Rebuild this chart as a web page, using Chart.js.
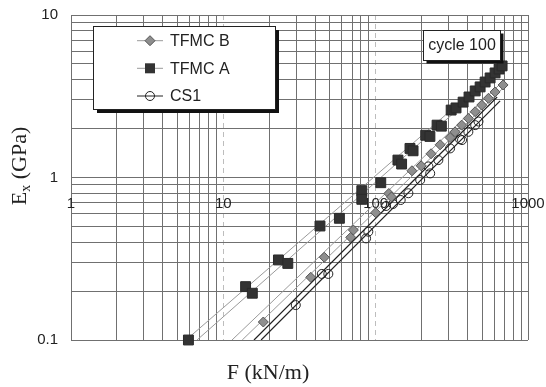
<!DOCTYPE html>
<html>
<head>
<meta charset="utf-8">
<script src="https://cdn.jsdelivr.net/npm/chart.js@4.4.0/dist/chart.umd.min.js"></script>
<style>
  html, body { margin: 0; padding: 0; background: #fff; }
  #wrap { width: 546px; height: 387px; }
</style>
</head>
<body>
<div id="wrap"><canvas id="myChart" width="546" height="387"></canvas></div>
<script>
const seriesNames = ['TFMC B', 'TFMC A', 'CS1'];

// measured points, [F (kN/m), Ex (GPa)]
const tfmcB = [[18.3, 0.129], [37.5, 0.243], [46.0, 0.323], [68.6, 0.428], [71.4, 0.475],
  [100, 0.607], [122, 0.797], [127, 0.759], [173, 1.10], [199, 1.18], [231, 1.40],
  [265, 1.59], [308, 1.76], [332, 1.91], [367, 2.10], [406, 2.31], [450, 2.54],
  [497, 2.79], [550, 3.07], [608, 3.36], [686, 3.71]];
const tfmcA = [[5.9, 0.100], [14.0, 0.213], [15.5, 0.194], [23.0, 0.311], [26.5, 0.296],
  [43.1, 0.503], [57.8, 0.561], [81.1, 0.830], [81.1, 0.734], [108, 0.929], [140, 1.28],
  [148, 1.21], [168, 1.51], [176, 1.46], [213, 1.82], [227, 1.79], [253, 2.10], [270, 2.07],
  [313, 2.60], [337, 2.68], [375, 2.91], [410, 3.13], [450, 3.41], [485, 3.61], [523, 3.87],
  [564, 4.10], [608, 4.40], [646, 4.65], [676, 4.86]];
const cs1 = [[29.9, 0.164], [44.3, 0.255], [48.9, 0.255], [86.5, 0.422], [89.5, 0.464],
  [117, 0.668], [130, 0.687], [146, 0.727], [164, 0.80], [196, 0.965], [222, 1.17],
  [228, 1.06], [258, 1.28], [308, 1.51], [358, 1.72], [369, 1.70], [406, 1.91],
  [450, 2.10], [473, 2.21]];

// the two straight lines through each set (start, end)
const tfmcBLines = [[[11.4, 0.1], [656, 3.76]], [[13.3, 0.1], [686, 3.55]]];
const tfmcALines = [[[5.69, 0.1], [676, 4.86]], [[6.72, 0.1], [646, 4.40]]];
const cs1Lines = [[[15.9, 0.1], [627, 3.13]], [[17.7, 0.1], [656, 2.96]]];

const xTickLabels = [1, 10, 100, 1000];
const yTickLabels = [0.1, 1, 10];

const sans = '"Liberation Sans", Arial, sans-serif';
const serif = '"Liberation Serif", "Times New Roman", serif';

const toXY = arr => arr.map(p => ({ x: p[0], y: p[1] }));
const isDecade = v => Math.abs(Math.log10(v) - Math.round(Math.log10(v))) < 1e-6;
const innerX = v => isDecade(v) && v > 1.5 && v < 900;

function logTicks(min, max) {
  const out = [];
  for (let d = min; d < max * 0.999; d *= 10) {
    for (let m = 1; m < 10; m++) out.push({ value: m * d });
  }
  out.push({ value: max });
  return out;
}

const lineSet = (pts, color, w) => ({
  data: toXY(pts), showLine: true, pointRadius: 0, borderColor: color,
  borderWidth: w, order: 1, clip: 0
});

const datasets = [
  { label: seriesNames[0], data: toXY(tfmcB), pointStyle: 'rectRot', pointRadius: 5,
    backgroundColor: '#8e8e8e', borderColor: '#555', borderWidth: 1, order: 0, clip: 8 },
  { label: seriesNames[1], data: toXY(tfmcA), pointStyle: 'rect', pointRadius: 7,
    backgroundColor: '#333', borderColor: '#2a2a2a', borderWidth: 1, order: 0, clip: 8 },
  { label: seriesNames[2], data: toXY(cs1), pointStyle: 'circle', pointRadius: 4.5,
    backgroundColor: 'rgba(0,0,0,0)', borderColor: '#222', borderWidth: 1, order: 0, clip: 8 },
  lineSet(tfmcBLines[0], '#9a9a9a', 1), lineSet(tfmcBLines[1], '#9a9a9a', 1),
  lineSet(tfmcALines[0], '#9a9a9a', 1), lineSet(tfmcALines[1], '#9a9a9a', 1),
  lineSet(cs1Lines[0], '#222', 1.2), lineSet(cs1Lines[1], '#222', 1.2)
];

const decorations = {
  id: 'decorations',
  afterDraw(chart) {
    const ctx = chart.ctx;
    ctx.save();
    ctx.fillStyle = '#222';

    // axis titles
    ctx.font = '22px ' + serif;
    ctx.textAlign = 'center';
    ctx.textBaseline = 'middle';
    ctx.fillText('F (kN/m)', 268, 373);

    ctx.save();
    ctx.translate(19, 166);
    ctx.rotate(-Math.PI / 2);
    ctx.textAlign = 'left';
    ctx.textBaseline = 'alphabetic';
    ctx.font = '22px ' + serif;
    const wE = ctx.measureText('E').width;
    const wRest = ctx.measureText(' (GPa)').width;
    ctx.font = '14px ' + serif;
    const wx = ctx.measureText('x').width;
    let x0 = -(wE + wx + wRest) / 2;
    ctx.font = '22px ' + serif;
    ctx.fillText('E', x0, 7);
    ctx.font = '14px ' + serif;
    ctx.fillText('x', x0 + wE, 11);
    ctx.font = '22px ' + serif;
    ctx.fillText(' (GPa)', x0 + wE + wx, 7);
    ctx.restore();

    // legend box
    ctx.fillStyle = '#111';
    ctx.fillRect(97, 30, 182, 83);
    ctx.fillStyle = '#fff';
    ctx.fillRect(93.5, 26.5, 182, 83);
    ctx.strokeStyle = '#222';
    ctx.lineWidth = 1;
    ctx.strokeRect(93.5, 26.5, 182, 83);

    const rows = [40.7, 68.3, 96];
    const lineCols = ['#9a9a9a', '#9a9a9a', '#222'];
    const mx = 150;
    rows.forEach((ry, i) => {
      ctx.strokeStyle = lineCols[i];
      ctx.lineWidth = 1;
      ctx.beginPath();
      ctx.moveTo(137, ry);
      ctx.lineTo(163, ry);
      ctx.stroke();
      if (i === 0) {
        ctx.beginPath();
        ctx.moveTo(mx, ry - 5); ctx.lineTo(mx + 5, ry); ctx.lineTo(mx, ry + 5); ctx.lineTo(mx - 5, ry);
        ctx.closePath();
        ctx.fillStyle = '#8e8e8e'; ctx.fill();
        ctx.strokeStyle = '#555'; ctx.stroke();
      } else if (i === 1) {
        ctx.fillStyle = '#333';
        ctx.fillRect(mx - 5, ry - 5, 10, 10);
      } else {
        ctx.beginPath();
        ctx.arc(mx, ry, 4.5, 0, Math.PI * 2);
        ctx.strokeStyle = '#222'; ctx.stroke();
      }
      ctx.fillStyle = '#222';
      ctx.font = '16px ' + sans;
      ctx.textAlign = 'left';
      ctx.textBaseline = 'middle';
      ctx.fillText(seriesNames[i], 170, ry + 1);
    });

    // cycle label
    ctx.fillStyle = '#111';
    ctx.fillRect(426.5, 33.5, 77, 30);
    ctx.fillStyle = '#fff';
    ctx.fillRect(423.5, 30.5, 77, 30);
    ctx.strokeStyle = '#222';
    ctx.strokeRect(423.5, 30.5, 77, 30);
    ctx.fillStyle = '#222';
    ctx.font = '16px ' + sans;
    ctx.textAlign = 'center';
    ctx.fillText('cycle 100', 462, 46);

    ctx.restore();
  }
};

new Chart(document.getElementById('myChart'), {
  type: 'scatter',
  data: { datasets },
  plugins: [decorations],
  options: {
    responsive: false,
    animation: false,
    devicePixelRatio: 1,
    layout: { padding: { left: 21, right: 18, top: 15, bottom: 0 } },
    plugins: { legend: { display: false }, tooltip: { enabled: false } },
    scales: {
      x: {
        type: 'logarithmic', min: 1, max: 1000, position: 'bottom',
        afterBuildTicks: s => { s.ticks = logTicks(1, 1000); },
        afterFit: s => { s.height = 47; s.paddingLeft = 0; s.paddingRight = 0; },
        ticks: { display: false },
        grid: {
          drawTicks: false, lineWidth: 1,
          color: c => c.tick && innerX(c.tick.value) ? '#bdbdbd' : '#707070'
        },
        border: {
          display: false,
          dash: c => c.tick && innerX(c.tick.value) ? [5, 4] : []
        }
      },
      x2: {
        type: 'logarithmic', axis: 'x', min: 1, max: 1000, position: { y: 1 },
        afterBuildTicks: s => { s.ticks = xTickLabels.map(v => ({ value: v })); },
        afterFit: s => { s.paddingLeft = 0; s.paddingRight = 0; s.paddingTop = 0; s.paddingBottom = 0; },
        grid: { display: false },
        border: { display: false },
        ticks: {
          autoSkip: false, maxRotation: 0, padding: 9, color: '#222',
          font: { family: sans, size: 15 },
          callback: v => String(v)
        }
      },
      y: {
        type: 'logarithmic', min: 0.1, max: 10,
        afterBuildTicks: s => { s.ticks = logTicks(0.1, 10); },
        afterFit: s => { s.width = 50; s.paddingTop = 0; s.paddingBottom = 0; },
        ticks: {
          autoSkip: false, padding: 13, color: '#222',
          font: { family: sans, size: 15 },
          callback: v => yTickLabels.some(t => Math.abs(t - v) < 1e-9) ? String(v) : ''
        },
        grid: { drawTicks: false, lineWidth: 1, color: '#707070' },
        border: { display: false }
      }
    }
  }
});
</script>
</body>
</html>
